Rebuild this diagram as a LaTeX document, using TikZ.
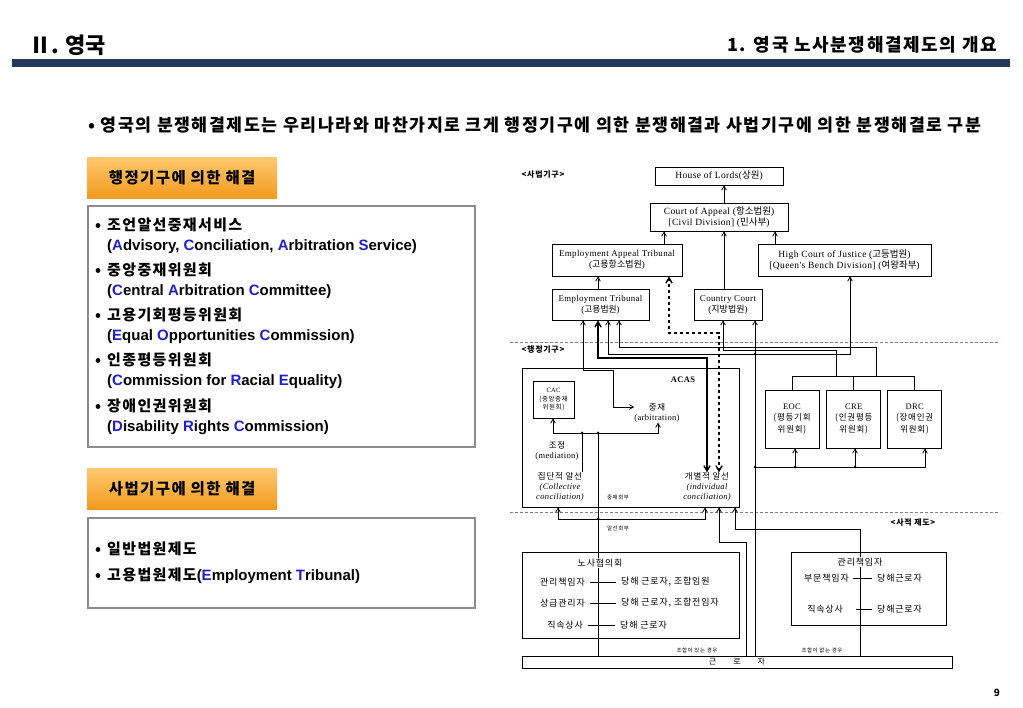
\documentclass[tikz,border=0pt]{standalone}
\usepackage{fontspec}
\setmainfont{Noto Sans CJK KR}[LetterSpace=9]
\newfontfamily\kr{Noto Sans CJK KR}
\newfontfamily\ar{Liberation Sans}
\newfontfamily\tm{Liberation Serif}[LetterSpace=4]
\usetikzlibrary{arrows,positioning}
\definecolor{navy}{HTML}{23385A}
\definecolor{orgtop}{HTML}{FFC870}
\definecolor{orgbot}{HTML}{F29A1D}
\definecolor{boxgray}{HTML}{8C8C8C}
\definecolor{ini}{HTML}{1F1FCF}
\newcommand{\ini}[1]{\textcolor{ini}{#1}}

\begin{document}
\begin{tikzpicture}[x=1pt,y=-1pt,>=angle 60,
  head/.style={top color=orgtop,bottom color=orgbot,minimum width=190,minimum height=41,inner sep=0,font=\bfseries\fontsize{15.5}{18}\selectfont},
  frame/.style={draw=boxgray,line width=2.2pt,fill=white,inner sep=0},
  item/.style={anchor=west,align=left,inner sep=0,font=\bfseries\fontsize{15}{20}\selectfont},
  crt/.style={draw,line width=0.8pt,inner sep=0,align=center,font=\tm\fontsize{9.5}{11}\selectfont},
  com/.style={draw,line width=0.8pt,minimum width=54,minimum height=58,inner sep=0,align=center,font=\fontsize{8.5}{11.5}\selectfont},
  sbox/.style={draw,line width=0.8pt,inner sep=0},
  lbl/.style={inner sep=0,font=\bfseries\fontsize{8}{9}\selectfont},
  txt/.style={inner sep=0,align=center,font=\fontsize{8.5}{10}\selectfont},
  row/.style={inner sep=1pt,fill=white,font=\fontsize{9}{10}\selectfont},
  tiny/.style={inner sep=0,font=\fontsize{5.5}{6}\selectfont},
  ln/.style={line width=0.8pt},
  sep/.style={gray,line width=0.8pt,dash pattern=on 3pt off 2pt},
  dot/.style={fill,radius=1.5pt}]
\useasboundingbox (0,0) rectangle (1023,708);

\node[anchor=west,inner sep=0,font=\bfseries\fontsize{22}{26}\selectfont\addfontfeature{LetterSpace=0}] (T) at (29,45) {Ⅱ. 영국};
\node[anchor=east,inner sep=0,font=\bfseries\fontsize{18}{20}\selectfont] (ST) at (997,45) {1. 영국 노사분쟁해결제도의 개요};
\fill[navy] (12,59) rectangle (1010,67);
\node[anchor=west,inner sep=0,font=\bfseries\fontsize{17.3}{20}\selectfont] (L) at (88,125) {• 영국의 분쟁해결제도는 우리나라와 마찬가지로 크게 행정기구에 의한 분쟁해결과 사법기구에 의한 분쟁해결로 구분};

\node[head,anchor=north west] (H1) at (87,157) {행정기구에 의한 해결};
\node[frame,anchor=north west,minimum width=387,minimum height=241] (F1) at (87,205) {};
\node[item] (I1) at (95,236) {\makebox[12pt][l]{•}조언알선중재서비스\\\hspace*{12pt}{\ar(\ini{A}dvisory, \ini{C}onciliation, \ini{A}rbitration \ini{S}ervice)}};
\node[item] (I2) at (95,281) {\makebox[12pt][l]{•}중앙중재위원회\\\hspace*{12pt}{\ar(\ini{C}entral \ini{A}rbitration \ini{C}ommittee)}};
\node[item] (I3) at (95,326) {\makebox[12pt][l]{•}고용기회평등위원회\\\hspace*{12pt}{\ar(\ini{E}qual \ini{O}pportunities \ini{C}ommission)}};
\node[item] (I4) at (95,371) {\makebox[12pt][l]{•}인종평등위원회\\\hspace*{12pt}{\ar(\ini{C}ommission for \ini{R}acial \ini{E}quality)}};
\node[item] (I5) at (95,416.5) {\makebox[12pt][l]{•}장애인권위원회\\\hspace*{12pt}{\ar(\ini{D}isability \ini{R}ights \ini{C}ommission)}};

\node[head,anchor=north west] (H2) at (87,468) {사법기구에 의한 해결};
\node[frame,anchor=north west,minimum width=387,minimum height=90] (F2) at (87,517) {};
\node[item] (J1) at (95,549) {\makebox[12pt][l]{•}일반법원제도};
\node[item] (J2) at (95,576) {\makebox[12pt][l]{•}고용법원제도{\ar(\ini{E}mployment \ini{T}ribunal)}};

\node[inner sep=0,font=\bfseries\fontsize{10}{12}\selectfont] (P) at (997,693) {9};

\node[lbl] (LJ) at (543,175) {<사법기구>};
\node[lbl] (LA) at (543,350) {<행정기구>};
\node[lbl] (LP) at (913,523) {<사적 제도>};
\draw[sep] (510,342) -- (1000,342);
\draw[sep] (510,512) -- (1000,512);

\node[crt,minimum width=128,minimum height=18] (HL) at (719,176) {House of Lords({\kr 상원})};
\node[crt,minimum width=138,minimum height=28] (CA) at (719,217) {Court of Appeal ({\kr 항소법원})\\{}[Civil Division] ({\kr 민사부})};
\node[crt,minimum width=130,minimum height=32,font=\tm\fontsize{9}{11}\selectfont] (EAT) at (617,260) {Employment Appeal Tribunal\\({\kr 고용항소법원})};
\node[crt,minimum width=173,minimum height=32] (HC) at (844.5,260) {High Court of Justice ({\kr 고등법원})\\{}[Queen's Bench Division] ({\kr 여왕좌부})};
\node[crt,minimum width=97,minimum height=31,font=\tm\fontsize{8.8}{11}\selectfont] (ET) at (600.5,304.5) {Employment Tribunal\\({\kr 고용법원})};
\node[crt,minimum width=68,minimum height=31,font=\tm\fontsize{9}{11}\selectfont] (CC) at (728,304.5) {Country Court\\({\kr 지방법원})};

\draw[ln,->] (724,0 |- CA.north) -- (724,0 |- HL.south);
\draw[ln,->] (664,0 |- EAT.north) -- (664,0 |- CA.south);
\draw[ln,->] (775,0 |- HC.north) -- (775,0 |- CA.south);
\draw[ln,->] (724,0 |- CC.north) -- (724,0 |- CA.south);
\draw[ln,->] (598,0 |- ET.north) -- (598,0 |- EAT.south);

\node[sbox,minimum width=217,minimum height=139] (ACAS) at (630.5,437.5) {};
\node[inner sep=0,font=\tm\bfseries\fontsize{8.5}{10}\selectfont] (AC) at (683,380) {ACAS};
\node[sbox,align=center,minimum width=41,minimum height=37,font=\fontsize{6.5}{8.5}\selectfont] (CAC) at (553.5,399.5) {{\tm CAC}\\(중앙중재\\위원회)};
\node[txt] (ARB) at (657,413) {중재\\{\tm (arbitration)}};
\node[txt] (MED) at (557,451) {조정\\{\tm (mediation)}};
\node[txt] (COL) at (560,487) {집단적 알선\\{\tm\itshape (Collective}\\{\tm\itshape conciliation)}};
\node[txt] (IND) at (707,487) {개별적 알선\\{\tm\itshape (individual}\\{\tm\itshape conciliation)}};
\node[tiny] (R1) at (618,497) {중재회부};
\node[tiny] (R2) at (618,528) {알선회부};

\node[com] (EOC) at (792,419) {{\tm EOC}\\(평등기회\\위원회)};
\node[com] (CRE) [right=7 of EOC] {{\tm CRE}\\(인권평등\\위원회)};
\node[com] (DRC) [right=6 of CRE] {{\tm DRC}\\(장애인권\\위원회)};
\draw[ln] (EOC.north) -- ++(0,-13) -| (DRC.north);
\draw[ln] (CRE.north) -- (CRE.north |- 0,377);

\node[sbox,minimum width=217,minimum height=86] (LMC) at (630.5,595) {};
\node[sbox,minimum width=155,minimum height=73] (MGR) at (868.5,588.5) {};
\node[sbox,minimum width=430,minimum height=12,font=\fontsize{8}{9}\selectfont] (WRK) at (737,662) {근\hspace{17pt}로\hspace{17pt}자};
\node[tiny] (U1) at (697,650) {조합이 있는 경우};
\node[tiny] (U2) at (822,650) {조합이 없는 경우};

\draw[ln,<->] (583,0 |- ET.south) -- (583,370) -- (613,370) -- (613,407) -- (ARB.west |- 0,407);
\draw[line width=1.4pt,<->] (598,0 |- ET.south) -- (598,358) -- (707,358) -- (707,0 |- IND.north);
\draw[ln,<->] (608,0 |- ET.south) -- (608,354) -- (850,354) -- (850,0 |- HC.south);
\draw[ln,<-] (619,0 |- ET.south) -- (619,347) -| (876,377);
\draw[ln,<-] (723,0 |- CC.south) -- (723,350) -| (836,377);
\draw[line width=1.4pt,dashed,<->] (669,0 |- EAT.south) -- (669,333) -- (719,333) -- (719,0 |- IND.north);

\draw[ln,->] (755,0 |- WRK.north) -- (755,0 |- CC.south);
\draw[ln,->] (755,467) -| (925,0 |- DRC.south);
\draw[ln,->] (795,467) -- (795,0 |- EOC.south);
\draw[ln,->] (855,467) -- (855,0 |- CRE.south);
\fill[dot] (755,354) circle;
\fill[dot] (755,467) circle;
\fill[dot] (795,467) circle;
\fill[dot] (855,467) circle;

\draw[ln] (598,0 |- WRK.north) -- (598,433);
\draw[ln,<->] (558,0 |- ACAS.south) -- (558,519) -- (705,519) -- (705,0 |- ACAS.south);
\draw[ln,<->] (553,0 |- CAC.south) -- (553,433) -- (658,433) -- (658,0 |- ARB.south);
\draw[ln] (582,433) -- (582,0 |- COL.north);
\draw[ln,->] (746,0 |- WRK.north) -- (746,542) -- (719,542) -- (719,0 |- ACAS.south);
\draw[ln,->] (860,0 |- WRK.north) -- (860,529) -- (735,529) -- (735,0 |- ACAS.south);
\fill[dot] (598,519) circle;
\fill[dot] (598,433) circle;
\fill[dot] (582,433) circle;

\node[row] (LT) at (600,563) {노사협의회};
\node[row,anchor=east] (A1) at (586,582) {관리책임자};
\node[row,anchor=west] (B1) at (620,582) {당해 근로자, 조합임원};
\node[row,anchor=east] (A2) at (586,603) {상급관리자};
\node[row,anchor=west] (B2) at (620,603) {당해 근로자, 조합전임자};
\node[row,anchor=east] (A3) at (584,625) {직속상사};
\node[row,anchor=west] (B3) at (619,625) {당해 근로자};
\draw[ln] ([xshift=4]A1.east) -- ([xshift=-4]B1.west);
\draw[ln] ([xshift=4]A2.east) -- ([xshift=-4]B2.west);
\draw[ln] ([xshift=4]A3.east) -- ([xshift=-4]B3.west);

\node[row] (MT) at (860,562) {관리책임자};
\node[row,anchor=east] (C1) at (850,578) {부문책임자};
\node[row,anchor=west] (D1) at (876,578) {당해근로자};
\node[row,anchor=east] (C2) at (844,609) {직속상사};
\node[row,anchor=west] (D2) at (876,609) {당해근로자};
\draw[ln] ([xshift=3]C1.east) -- ([xshift=-4]D1.west);
\draw[ln] ([xshift=12]C2.east) -- ([xshift=-4]D2.west);
\end{tikzpicture}
\end{document}
